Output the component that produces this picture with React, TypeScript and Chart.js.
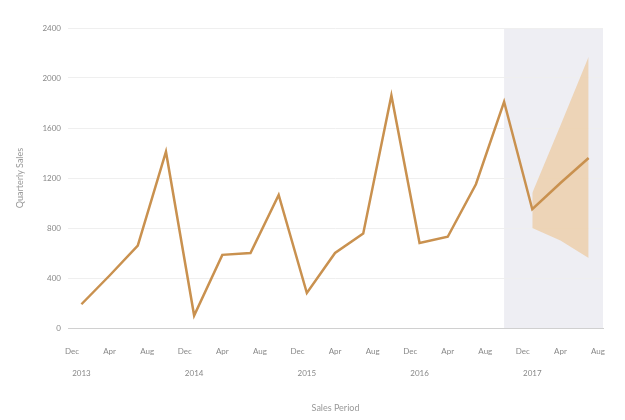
import React, { useEffect, useRef } from "react";
import { Chart, registerables } from "chart.js";

Chart.register(...registerables);

// x values are months counted from Dec 2012 (0 = Dec 2012)
const quarterMonths = [1, 4, 7, 10, 13, 16, 19, 22, 25, 28, 31, 34, 37, 40, 43, 46, 49, 52, 55];
const salesValues = [190, 420, 660, 1410, 100, 585, 600, 1065, 280, 600, 755, 1860, 680, 730, 1150, 1810, 950, 1160, 1360];

const forecastMonths = [49, 52, 55];
const forecastLower = [800, 700, 560];
const forecastUpper = [1080, 1620, 2170];
const forecastStartMonth = 46;

const monthTickValues = [0, 4, 8, 12, 16, 20, 24, 28, 32, 36, 40, 44, 48, 52, 56];
const monthTickLabels = ["Dec", "Apr", "Aug", "Dec", "Apr", "Aug", "Dec", "Apr", "Aug", "Dec", "Apr", "Aug", "Dec", "Apr", "Aug"];
const yearTickValues = [1, 13, 25, 37, 49];
const yearTickLabels = ["2013", "2014", "2015", "2016", "2017"];

const yTicks = [0, 400, 800, 1200, 1600, 2000, 2400];

const X_MIN = -0.43;
const X_MAX = 56.53;

export default function App() {
  const canvasRef = useRef<HTMLCanvasElement | null>(null);

  useEffect(() => {
    document.body.style.margin = "0";
    const canvas = canvasRef.current;
    if (!canvas) return;

    const forecastShade = {
      id: "forecastShade",
      beforeDraw(chart: any) {
        const { ctx, chartArea, scales } = chart;
        const x0 = scales.x.getPixelForValue(forecastStartMonth);
        ctx.save();
        ctx.fillStyle = "#eeeef3";
        ctx.fillRect(x0, chartArea.top, chartArea.right - x0, chartArea.bottom - chartArea.top);
        ctx.restore();
      },
    };

    const tickFont = { family: "Lato", size: 8 };
    const titleFont = { family: "Lato", size: 9 };

    const chart = new Chart(canvas, {
      type: "line",
      data: {
        datasets: [
          {
            label: "Sales",
            data: quarterMonths.map((m, i) => ({ x: m, y: salesValues[i] })),
            borderColor: "#c9914f",
            borderWidth: 2.5,
            pointRadius: 0,
            tension: 0,
            fill: false,
          },
          {
            label: "Lower",
            data: forecastMonths.map((m, i) => ({ x: m, y: forecastLower[i] })),
            borderColor: "rgba(0,0,0,0)",
            borderWidth: 0,
            pointRadius: 0,
            tension: 0,
            fill: false,
          },
          {
            label: "Upper",
            data: forecastMonths.map((m, i) => ({ x: m, y: forecastUpper[i] })),
            borderColor: "rgba(0,0,0,0)",
            borderWidth: 0,
            pointRadius: 0,
            tension: 0,
            backgroundColor: "rgba(235,180,110,0.45)",
            fill: "-1",
          },
        ],
      },
      options: {
        animation: false,
        responsive: false,
        devicePixelRatio: 1,
        layout: { padding: { top: 28, right: 22, left: 0, bottom: 0 } },
        plugins: {
          legend: { display: false },
          tooltip: { enabled: false },
        },
        scales: {
          x: {
            type: "linear",
            position: "bottom",
            weight: 0,
            min: X_MIN,
            max: X_MAX,
            grid: { display: false, drawTicks: false },
            border: { display: true, color: "#d0d0d0", width: 1 },
            afterBuildTicks: (scale: any) => {
              scale.ticks = monthTickValues.map((v) => ({ value: v }));
            },
            afterFit: (scale: any) => {
              scale.height = 36;
            },
            ticks: {
              autoSkip: false,
              maxRotation: 0,
              padding: 19,
              color: "#888888",
              font: tickFont,
              callback: (_v: any, i: number) => monthTickLabels[i],
            },
          },
          x2: {
            type: "linear",
            position: "bottom",
            weight: 1,
            min: X_MIN,
            max: X_MAX,
            grid: { display: false, drawTicks: false },
            border: { display: false },
            afterBuildTicks: (scale: any) => {
              scale.ticks = yearTickValues.map((v) => ({ value: v }));
            },
            afterFit: (scale: any) => {
              scale.height = 56;
            },
            ticks: {
              autoSkip: false,
              maxRotation: 0,
              padding: 5,
              color: "#888888",
              font: tickFont,
              callback: (_v: any, i: number) => yearTickLabels[i],
            },
            title: {
              display: true,
              text: "Sales Period",
              color: "#999999",
              font: titleFont,
              padding: { top: 0, bottom: 7 },
            },
          },
          y: {
            type: "linear",
            position: "left",
            min: 0,
            max: 2400,
            grid: { color: "#efefef", drawTicks: false },
            border: { display: false },
            afterBuildTicks: (scale: any) => {
              scale.ticks = yTicks.map((v) => ({ value: v }));
            },
            afterFit: (scale: any) => {
              scale.width = 68;
            },
            ticks: {
              padding: 7,
              color: "#888888",
              font: tickFont,
              callback: (v: any) => String(v),
            },
            title: {
              display: true,
              text: "Quarterly Sales",
              color: "#999999",
              font: titleFont,
              padding: { top: 15, bottom: 0 },
            },
          },
        },
      },
      plugins: [forecastShade],
    });

    return () => chart.destroy();
  }, []);

  return (
    <div style={{ position: "absolute", left: 0, top: 0, width: 625, height: 420, background: "#ffffff" }}>
      <canvas ref={canvasRef} width={625} height={420} />
    </div>
  );
}
